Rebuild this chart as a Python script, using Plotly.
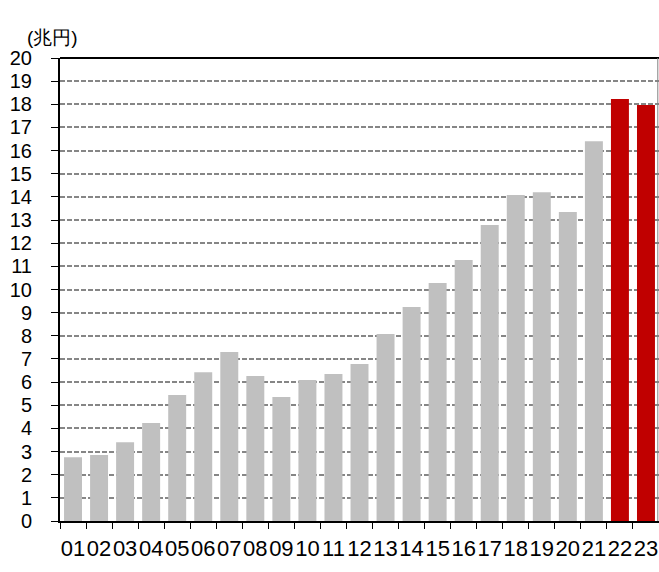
import plotly.graph_objects as go

years = ["01","02","03","04","05","06","07","08","09","10","11","12",
         "13","14","15","16","17","18","19","20","21","22","23"]
values = [2.75, 2.85, 3.4, 4.23, 5.44, 6.43, 7.3, 6.26, 5.36, 6.09, 6.35, 6.78,
          8.08, 9.24, 10.28, 11.27, 12.79, 14.08, 14.2, 13.35, 16.4, 18.23, 17.97]
gray = "#C0C0C0"
red = "#C00000"
colors = [gray] * 21 + [red] * 2
y_ticks = list(range(0, 21))

fig = go.Figure(go.Bar(x=years, y=values, marker=dict(color=colors, line=dict(width=0)),
                       width=0.69))

fig.update_layout(
    width=659, height=572,
    margin=dict(l=60, r=0, t=58, b=51, autoexpand=False),
    plot_bgcolor="white", paper_bgcolor="white",
    font=dict(family="Liberation Sans, Arial, sans-serif", size=20, color="black"),
    showlegend=False,
)
fig.update_xaxes(
    type="category", automargin=False,
    showline=True, linecolor="black", linewidth=2,
    ticks="outside", tickson="boundaries", ticklen=6, tickcolor="black", tickwidth=1,
    showgrid=False,
    tickangle=0,
    ticklabelstandoff=7,
    tickfont=dict(size=22),
)
fig.update_yaxes(
    range=[0, 20], automargin=False,
    tickvals=y_ticks,
    showline=True, linecolor="black", linewidth=2,
    ticks="outside", ticklen=7, tickcolor="black", tickwidth=1,
    showgrid=True, gridcolor="#868686", griddash="5px,2px", gridwidth=1.5,
    zeroline=False,
    tickfont=dict(size=20),
    ticklabelstandoff=15,
)
fig.add_shape(type="line", xref="paper", yref="paper", x0=0, x1=1, y0=1, y1=1,
              line=dict(color="black", width=2))
fig.add_shape(type="line", xref="paper", yref="paper", x0=0.998, x1=0.998, y0=0, y1=1,
              line=dict(color="#808080", width=1))
fig.add_annotation(text="(兆円)", xref="paper", yref="paper", x=0, y=1,
                   xanchor="left", yanchor="middle", xshift=-35, yshift=21,
                   showarrow=False, font=dict(size=19))

fig.write_html("out.html", config={"displayModeBar": False},
               post_script="document.body.style.margin='0';document.body.style.padding='0';")
